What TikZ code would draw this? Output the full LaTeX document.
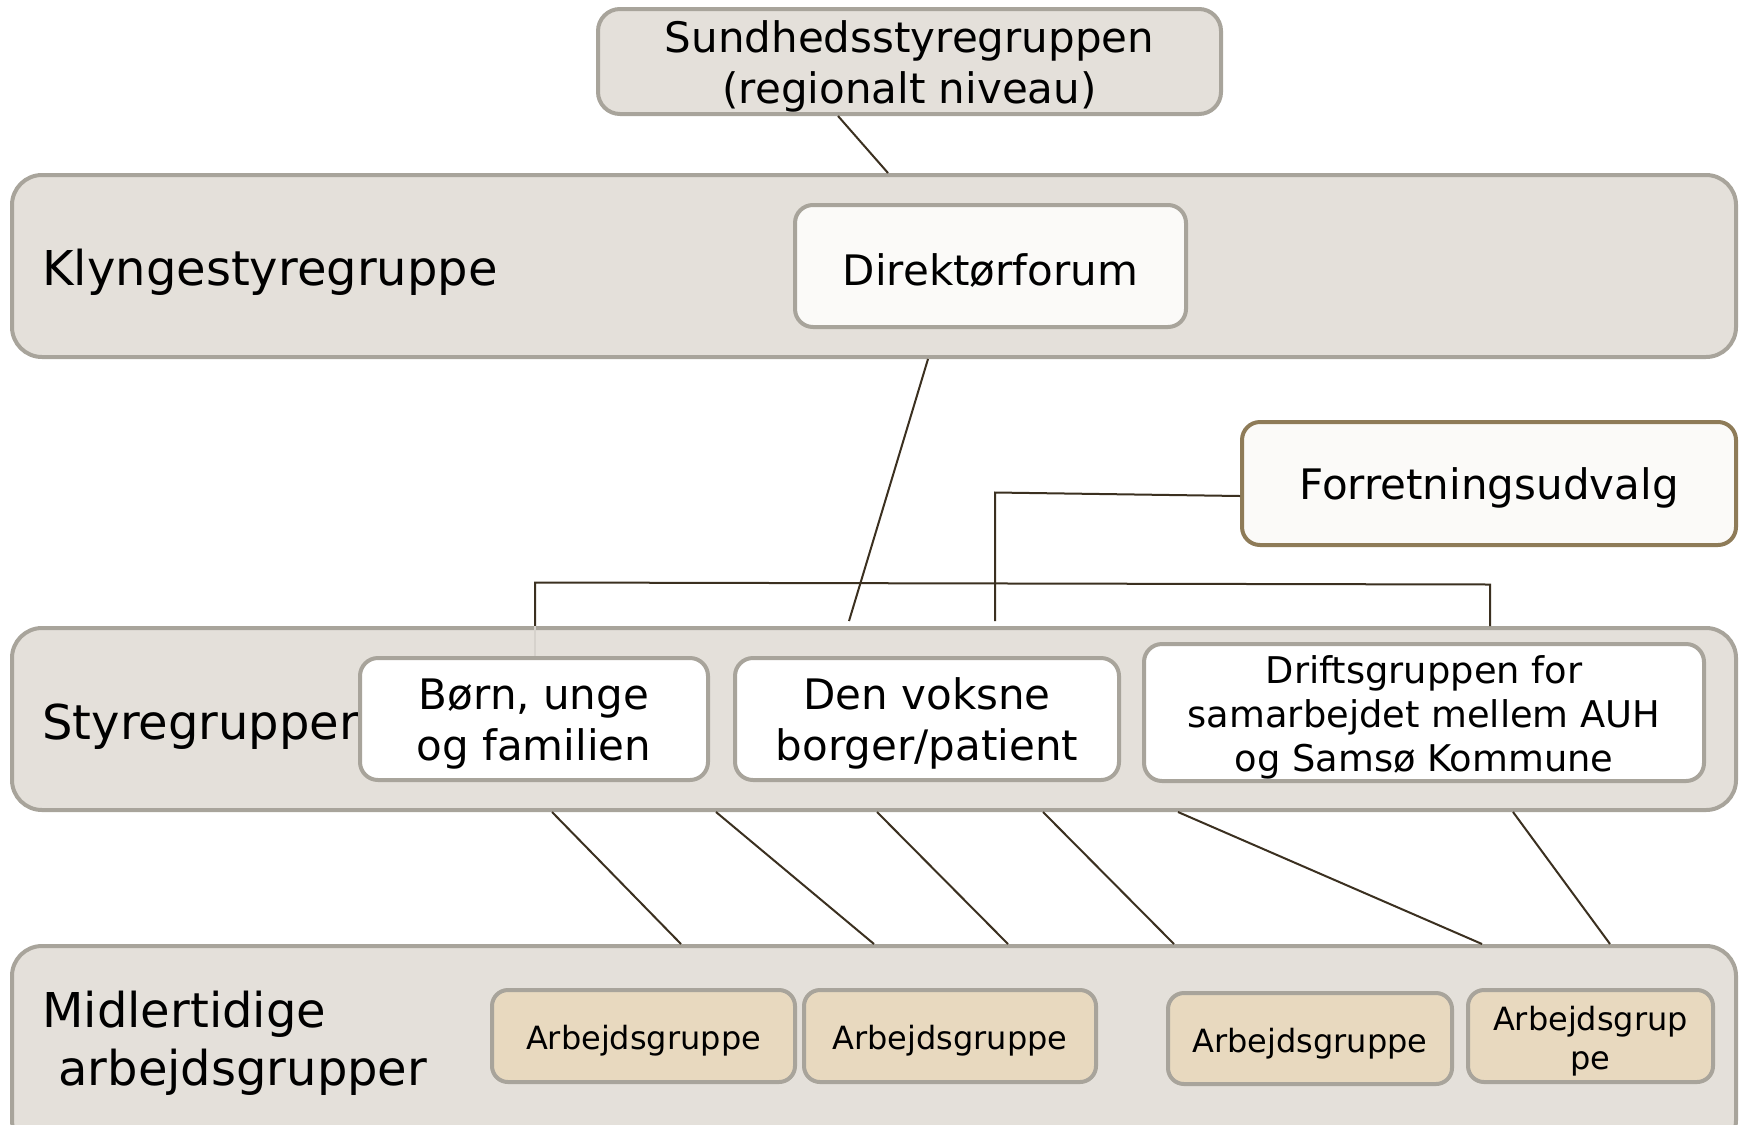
\documentclass[tikz,border=0pt]{standalone}
\usepackage{fontspec}
\setmainfont{DejaVu Sans}
\definecolor{groupfill}{HTML}{E4E0DA}
\definecolor{bordergray}{HTML}{A8A49B}
\definecolor{agfill}{HTML}{E8D9BF}
\definecolor{forretborder}{HTML}{8E7B58}
\definecolor{conncol}{HTML}{3B3020}
\definecolor{softwhite}{HTML}{FBFAF8}
\definecolor{lightline}{HTML}{D6D2CC}
\newcommand{\lowtxt}[1]{\raisebox{-2.4pt}[\height][\depth]{#1}}
\tikzset{
  group/.style={draw=bordergray, line width=2pt, fill=groupfill, rounded corners=15pt, inner sep=0pt},
  innerbox/.style={draw=bordergray, line width=2pt, fill=white, rounded corners=9pt, align=center, inner sep=0pt},
  agbox/.style={draw=bordergray, line width=2pt, fill=agfill, rounded corners=8pt, align=center, inner sep=0pt},
  conn/.style={draw=conncol, line width=1pt},
  biglabel/.style={anchor=west, inner sep=0pt, font=\fontsize{24pt}{29pt}\selectfont, align=left},
  stdfont/.style={font=\fontsize{21pt}{25.5pt}\selectfont},
  agfont/.style={font=\fontsize{16pt}{19.5pt}\selectfont},
}
\begin{document}
\begin{tikzpicture}[x=0.5pt,y=-0.5pt]
\useasboundingbox (0,0) rectangle (1743,1124);
\clip (0,0) rectangle (1743,1124);
% big group boxes
\node[group, minimum width=862pt, minimum height=91pt] (klynge) at (874,266) {};
\node[group, minimum width=862pt, minimum height=91pt] (styre) at (874,719) {};
\node[group, minimum width=862pt, minimum height=102pt] (midl) at (874,1048) {};
% top box
\node[innerbox, fill=groupfill, rounded corners=11pt, minimum width=311.5pt, minimum height=52.5pt, stdfont] (sund) at (909.5,61.5) {\lowtxt{Sundhedsstyregruppen}\\\lowtxt{(regionalt niveau)}};
% labels
\node[biglabel] (lklynge) at (42,272) {Klyngestyregruppe};
\node[biglabel] (lstyre) at (42,727) {Styregrupper};
\node[biglabel] (lmidl) at (42,1043) {Midlertidige\\\kern8pt arbejdsgrupper};
% inner boxes
\node[innerbox, fill=softwhite, minimum width=195.5pt, minimum height=61pt, stdfont] (dir) at (990.5,266) {\lowtxt{Direktørforum}};
\node[innerbox, fill=softwhite, draw=forretborder, minimum width=247pt, minimum height=61.5pt, stdfont] (forret) at (1489,483.5) {\lowtxt{Forretningsudvalg}};
\node[innerbox, minimum width=174pt, minimum height=61pt, stdfont] (born) at (534,719) {\lowtxt{Børn, unge}\\\lowtxt{og familien}};
\node[innerbox, minimum width=192pt, minimum height=61pt, stdfont] (voksne) at (927,719) {\lowtxt{Den voksne}\\\lowtxt{borger/patient}};
\node[innerbox, minimum width=280pt, minimum height=68.5pt, font=\fontsize{18.4pt}{22.2pt}\selectfont] (drift) at (1424,712.5) {\lowtxt{Driftsgruppen for}\\\lowtxt{samarbejdet mellem AUH}\\\lowtxt{og Samsø Kommune}};
% arbejdsgrupper
\node[agbox, minimum width=151.5pt, minimum height=46pt, agfont] (ag1) at (643.5,1036) {\lowtxt{Arbejdsgruppe}};
\node[agbox, minimum width=146pt, minimum height=46pt, agfont] (ag2) at (950,1036) {\lowtxt{Arbejdsgruppe}};
\node[agbox, minimum width=142pt, minimum height=45.5pt, agfont] (ag3) at (1310,1038.5) {\lowtxt{Arbejdsgruppe}};
\node[agbox, minimum width=122.5pt, minimum height=46pt, agfont] (ag4) at (1590.5,1036) {\lowtxt{Arbejdsgrup}\\\lowtxt{pe}};
% coordinates for connector ends
\coordinate (s1) at (838,116);
\coordinate (k1) at (888,173);
\coordinate (k2) at (928,359);
\coordinate (v1) at (849,621);
\coordinate (f1) at (995,492.5);
\coordinate (f2) at (995,621);
\coordinate (b1) at (535,626);
\coordinate (b2) at (535,582.5);
\coordinate (d1) at (1490,584.5);
\coordinate (d2) at (1490,626);
\coordinate (u1) at (552,812);  \coordinate (l1) at (681,944);
\coordinate (u2) at (716,812);  \coordinate (l2) at (874,944);
\coordinate (u3) at (877,812);  \coordinate (l3) at (1008,944);
\coordinate (u4) at (1043,812); \coordinate (l4) at (1174,944);
\coordinate (u5) at (1178,812); \coordinate (l5) at (1482,944);
\coordinate (u6) at (1513,812); \coordinate (l6) at (1610,944);
% connectors
\draw[conn] (forret.west |- 0,496) -- (f1) -- (f2);
\draw[conn] (s1) -- (k1);
\draw[conn] (k2) -- (v1);
\draw[conn] (b1) -- (b2) -- (d1) -- (d2);
\draw[draw=lightline, line width=1pt] (b1) -- (born.north -| b1);
\draw[conn] (u1) -- (l1);
\draw[conn] (u2) -- (l2);
\draw[conn] (u3) -- (l3);
\draw[conn] (u4) -- (l4);
\draw[conn] (u5) -- (l5);
\draw[conn] (u6) -- (l6);
\end{tikzpicture}
\end{document}
